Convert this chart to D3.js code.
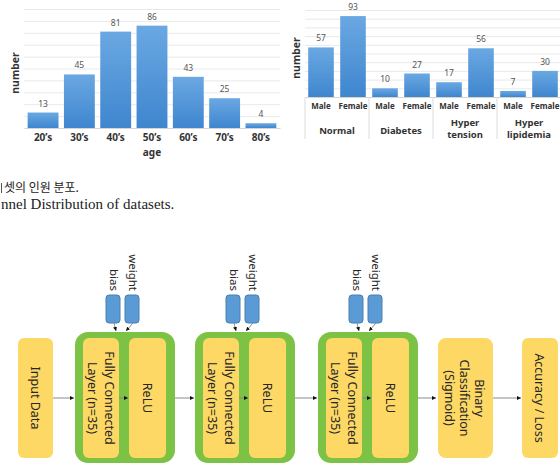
<!DOCTYPE html>
<html>
<head>
<meta charset="utf-8">
<script src="https://cdn.jsdelivr.net/npm/d3@7"></script>
<style>
  body { margin: 0; background: #fff; }
  svg { display: block; }
</style>
</head>
<body>
<div id="fig"></div>
<script>
// ---- data ----
const ageGroups = ["20’s", "30’s", "40’s", "50’s", "60’s", "70’s", "80’s"];
const ageCounts = [13, 45, 81, 86, 43, 25, 4];

const diseaseGroups = ["Normal", "Diabetes", "Hyper tension", "Hyper lipidemia"];
const groupLabelLines = [["Normal"], ["Diabetes"], ["Hyper", "tension"], ["Hyper", "lipidemia"]];
const sexes = ["Male", "Female"];
const maleCounts = [57, 10, 17, 7];
const femaleCounts = [93, 27, 56, 30];

const gridTicks = [10, 20, 30, 40, 50, 60, 70, 80, 90, 100];

// caption as it shows in the picture (its left part lies outside the frame)
const captionKo = "셋의 인원 분포.";
const captionEn = "nnel Distribution of datasets.";

const inputLabel = ["Input Data"];
const fcLabel = ["Fully Connected", "Layer (n=35)"];
const actLabel = ["ReLU"];
const paramLabels = ["bias", "weight"];
const hiddenBlocks = 3;
const outLabels = [["Binary", "Classification", "(Sigmoid)"], ["Accuracy / Loss"]];

const svg = d3.select("#fig").append("svg")
    .attr("width", 560)
    .attr("height", 472);

const defs = svg.append("defs");
const grad = defs.append("linearGradient")
    .attr("id", "barFill")
    .attr("x1", 0).attr("y1", 0).attr("x2", 0).attr("y2", 1);
grad.append("stop").attr("offset", "0%").attr("stop-color", "#6aa8e2");
grad.append("stop").attr("offset", "100%").attr("stop-color", "#3f86cf");

defs.append("marker")
    .attr("id", "arrow")
    .attr("viewBox", "0 0 6 6")
    .attr("refX", 6).attr("refY", 3)
    .attr("markerWidth", 4).attr("markerHeight", 4)
    .attr("orient", "auto")
  .append("path")
    .attr("d", "M0,0L6,3L0,6Z")
    .attr("fill", "#111");

const sans = "'Noto Sans', 'Open Sans', sans-serif";

// ---- left chart: age ----
const ageX = d3.scaleBand()
    .domain(ageGroups)
    .range([24, 280])
    .paddingInner(0.15)
    .paddingOuter(0.1);

const ageY = d3.scaleLinear()
    .domain([0, 100])
    .range([128, 9]);

const left = svg.append("g").attr("font-family", sans);

left.append("g")
    .attr("transform", "translate(24,0)")
    .call(d3.axisLeft(ageY).tickValues(gridTicks).tickSize(-256).tickFormat(""))
    .call(g => g.select(".domain").remove())
    .call(g => g.selectAll("line").attr("stroke", "#e9e9e9"));

left.selectAll(".bar")
  .data(ageGroups)
  .join("rect")
    .attr("class", "bar")
    .attr("x", d => ageX(d))
    .attr("width", ageX.bandwidth())
    .attr("y", (d, i) => ageY(ageCounts[i]))
    .attr("height", (d, i) => ageY(0) - ageY(ageCounts[i]))
    .attr("fill", "url(#barFill)");

left.selectAll(".val")
  .data(ageGroups)
  .join("text")
    .attr("class", "val")
    .attr("x", d => ageX(d) + ageX.bandwidth() / 2)
    .attr("y", (d, i) => ageY(ageCounts[i]) - 6)
    .attr("text-anchor", "middle")
    .attr("font-size", 8.5)
    .attr("fill", "#555")
    .text((d, i) => ageCounts[i]);

left.append("g")
    .attr("transform", `translate(0,${ageY(0)})`)
    .call(d3.axisBottom(ageX).tickSize(0).tickSizeOuter(0).tickPadding(6))
    .call(g => g.select(".domain").attr("stroke", "#d4d4d4"))
    .call(g => g.selectAll("text")
      .attr("font-family", sans)
      .attr("font-size", 10)
      .attr("font-weight", "bold")
      .attr("fill", "#333"));

left.append("text")
    .attr("x", 152).attr("y", 156)
    .attr("text-anchor", "middle")
    .attr("font-size", 10).attr("font-weight", "bold").attr("fill", "#333")
    .text("age");

left.append("text")
    .attr("transform", "translate(19,73) rotate(-90)")
    .attr("text-anchor", "middle")
    .attr("font-size", 10.5).attr("font-weight", "bold").attr("fill", "#333")
    .text("number");

// ---- right chart: disease / sex ----
const grpX = d3.scaleBand()
    .domain(diseaseGroups)
    .range([305, 561]);

const sexX = d3.scaleBand()
    .domain(sexes)
    .range([0, grpX.bandwidth()])
    .paddingInner(0.2)
    .paddingOuter(0.1);

const disY = d3.scaleLinear()
    .domain([0, 100])
    .range([97, 10]);

const right = svg.append("g").attr("font-family", sans);

right.append("g")
    .attr("transform", "translate(305,0)")
    .call(d3.axisLeft(disY).tickValues(gridTicks).tickSize(-256).tickFormat(""))
    .call(g => g.select(".domain").remove())
    .call(g => g.selectAll("line").attr("stroke", "#e9e9e9"));

const cells = diseaseGroups.flatMap((g, i) => [
  { group: g, sex: sexes[0], value: maleCounts[i] },
  { group: g, sex: sexes[1], value: femaleCounts[i] }
]);

right.selectAll(".bar")
  .data(cells)
  .join("rect")
    .attr("class", "bar")
    .attr("x", d => grpX(d.group) + sexX(d.sex))
    .attr("width", sexX.bandwidth())
    .attr("y", d => disY(d.value))
    .attr("height", d => disY(0) - disY(d.value))
    .attr("fill", "url(#barFill)");

right.selectAll(".val")
  .data(cells)
  .join("text")
    .attr("class", "val")
    .attr("x", d => grpX(d.group) + sexX(d.sex) + sexX.bandwidth() / 2)
    .attr("y", d => disY(d.value) - 6)
    .attr("text-anchor", "middle")
    .attr("font-size", 8.5)
    .attr("fill", "#555")
    .text(d => d.value);

right.append("g")
    .attr("transform", `translate(0,${disY(0)})`)
    .call(d3.axisBottom(grpX).tickSize(0).tickSizeOuter(0).tickFormat(""))
    .call(g => g.select(".domain").attr("stroke", "#d4d4d4"));

right.selectAll(".sep")
  .data(diseaseGroups.map(g => grpX(g)).concat([grpX.range()[1]]))
  .join("line")
    .attr("class", "sep")
    .attr("x1", d => d).attr("x2", d => d)
    .attr("y1", disY(0)).attr("y2", 139)
    .attr("stroke", "#dcdcdc");

right.selectAll(".sex")
  .data(cells)
  .join("text")
    .attr("class", "sex")
    .attr("x", d => grpX(d.group) + sexX(d.sex) + sexX.bandwidth() / 2)
    .attr("y", 109)
    .attr("text-anchor", "middle")
    .attr("font-size", 8)
    .attr("font-weight", "bold")
    .attr("fill", "#333")
    .text(d => d.sex);

right.selectAll(".grp")
  .data(diseaseGroups)
  .join("text")
    .attr("class", "grp")
    .attr("x", d => grpX(d) + grpX.bandwidth() / 2)
    .attr("y", (d, i) => groupLabelLines[i].length > 1 ? 126 : 134)
    .attr("text-anchor", "middle")
    .attr("font-size", 9.5)
    .attr("font-weight", "bold")
    .attr("fill", "#333")
    .selectAll("tspan")
    .data((d, i) => groupLabelLines[i])
    .join("tspan")
      .attr("x", function() { return this.parentNode.getAttribute("x"); })
      .attr("dy", (d, j) => j ? 12 : 0)
      .text(d => d);

right.append("text")
    .attr("transform", "translate(300,58) rotate(-90)")
    .attr("text-anchor", "middle")
    .attr("font-size", 10.5).attr("font-weight", "bold").attr("fill", "#333")
    .text("number");

// ---- caption ----
const cap = svg.append("g").attr("fill", "#222");
cap.append("line")
    .attr("x1", 1.5).attr("x2", 1.5).attr("y1", 183).attr("y2", 193)
    .attr("stroke", "#555").attr("stroke-width", 1);
cap.append("text")
    .attr("x", 4).attr("y", 192)
    .attr("font-family", "'Noto Sans CJK KR', sans-serif")
    .attr("font-size", 12)
    .text(captionKo);
cap.append("text")
    .attr("x", 1).attr("y", 209)
    .attr("font-family", "'Liberation Serif', 'DejaVu Serif', serif")
    .attr("font-size", 15)
    .text(captionEn);

// ---- network diagram ----
const yellow = "#fdd865";
const green = "#7cc245";
const midY = 398;
const diag = svg.append("g").attr("font-family", sans);

function vtext(cx, cy, lines, size, lh) {
  const t = diag.append("text")
      .attr("transform", `translate(${cx},${cy}) rotate(90)`)
      .attr("text-anchor", "middle")
      .attr("dominant-baseline", "central")
      .attr("font-size", size)
      .attr("fill", "#262626");
  t.selectAll("tspan").data(lines).join("tspan")
      .attr("x", 0)
      .attr("y", (d, i) => (i - (lines.length - 1) / 2) * lh)
      .text(d => d);
}

function box(x, y, w, h, r, fill, stroke) {
  diag.append("rect")
      .attr("x", x).attr("y", y).attr("width", w).attr("height", h)
      .attr("rx", r)
      .attr("fill", fill)
      .attr("stroke", stroke || "none");
}

function arrow(x1, y1, x2, y2) {
  diag.append("line")
      .attr("x1", x1).attr("y1", y1).attr("x2", x2).attr("y2", y2)
      .attr("stroke", "#8a8a8a")
      .attr("stroke-width", 1)
      .attr("marker-end", "url(#arrow)");
}

// input
box(18, 338, 35, 120, 6, yellow);
vtext(35.5, midY, inputLabel, 12.5, 15);
arrow(53, midY, 74, midY);

const blockLeft = [75, 195, 318];
for (let b = 0; b < hiddenBlocks; b++) {
  const x = blockLeft[b];
  box(x, 332, 100, 131, 13, green);
  box(x + 8, 338, 36, 120, 6, yellow);
  box(x + 54, 338, 37, 120, 6, yellow);
  vtext(x + 26, midY, fcLabel, 12.5, 17);
  vtext(x + 72.5, midY, actLabel, 12.5, 15);
  arrow(x + 44, midY, x + 53, midY);

  paramLabels.forEach((p, i) => {
    const bx = x + 31 + i * 19;
    box(bx, 295, 14, 28, 3, "#5b9bd5", "#4a7fb3");
    diag.append("text")
        .attr("transform", `translate(${bx + 8},291) rotate(90)`)
        .attr("text-anchor", "end")
        .attr("dominant-baseline", "central")
        .attr("font-size", 11.5)
        .attr("fill", "#262626")
        .text(p);
    arrow(bx + 8, 323, x + (i ? 51 : 41), 331);
  });

  const next = b < hiddenBlocks - 1 ? blockLeft[b + 1] : 437;
  arrow(x + 100, midY, next - 1, midY);
}

// outputs
box(438, 338, 55, 120, 8, yellow);
vtext(465, midY, outLabels[0], 12.5, 15);
arrow(493, midY, 521, midY);
box(522, 338, 36, 120, 6, yellow);
vtext(540, midY, outLabels[1], 12.5, 15);
</script>
</body>
</html>
